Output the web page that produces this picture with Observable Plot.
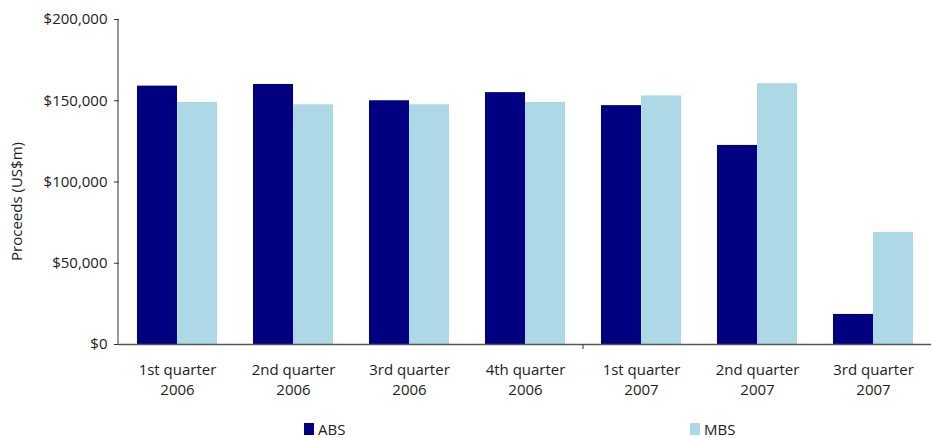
<!DOCTYPE html>
<html>
<head>
<meta charset="utf-8">
<script src="https://cdn.jsdelivr.net/npm/d3@7"></script>
<script src="https://cdn.jsdelivr.net/npm/@observablehq/plot@0.6"></script>
<style>
  html, body { margin: 0; padding: 0; background: #fff; }
  body { width: 932px; height: 438px; overflow: hidden; font-family: "Open Sans", sans-serif; }
  #legend { position: relative; width: 932px; height: 38px; font-size: 15px; color: #222; }
  .item { position: absolute; top: 21px; display: flex; align-items: center; height: 16px; }
  .sw { width: 10px; height: 12px; margin-right: 4px; }
</style>
</head>
<body>
<div id="chart"></div>
<div id="legend"></div>
<script>
const quarters = ["1st quarter\n2006", "2nd quarter\n2006", "3rd quarter\n2006", "4th quarter\n2006",
                  "1st quarter\n2007", "2nd quarter\n2007", "3rd quarter\n2007"];
const seriesNames = ["ABS", "MBS"];
const absValues = [159000, 160000, 150000, 155000, 147000, 122500, 18500];
const mbsValues = [149000, 147500, 147500, 149000, 153000, 160500, 69000];
const yTicks = [0, 50000, 100000, 150000, 200000];
const colors = ["#000080", "#ADD8E6"];
const yTitle = "Proceeds (US$m)";

const data = [];
quarters.forEach((q, i) => {
  data.push({quarter: q, series: "ABS", value: absValues[i]});
  data.push({quarter: q, series: "MBS", value: mbsValues[i]});
});

const fontFamily = '"Open Sans", sans-serif';
const plot = Plot.plot({
  width: 932,
  height: 400,
  marginLeft: 118,
  marginRight: 0,
  marginTop: 19,
  marginBottom: 56,
  style: {fontFamily, fontSize: "15px", color: "#222", background: "#fff"},
  fx: {domain: quarters, padding: 0, label: null},
  x: {domain: seriesNames, paddingInner: 0, paddingOuter: 0.418, axis: null},
  y: {domain: [0, 200000], label: null},
  color: {domain: seriesNames, range: colors},
  marks: [
    Plot.barY(data, {fx: "quarter", x: "series", y: "value", fill: "series", inset: 0}),
    Plot.ruleY([0], {stroke: "#555", strokeWidth: 1.5}),
    Plot.axisY({ticks: yTicks, tickFormat: d => "$" + d3.format(",")(d), tickSize: 5, tickPadding: 7, label: null, stroke: "#333", fontSize: 15}),
    Plot.axisFx({anchor: "bottom", tickSize: 0, tickPadding: 17, label: null, lineHeight: 1.3, fontSize: 15})
  ]
});
document.getElementById("chart").appendChild(plot);

// axis line and rotated title, positioned from the scales
const svg = d3.select(plot);
const y = plot.scale("y");
const fx = plot.scale("fx");
const y0 = y.apply(0), y1 = y.apply(200000);
svg.append("line").attr("x1", 118).attr("x2", 118).attr("y1", y1).attr("y2", y0)
  .attr("stroke", "#333").attr("stroke-width", 1);
// small tick at the year boundary
const xb = fx.apply(quarters[4]);
svg.append("line").attr("x1", xb).attr("x2", xb).attr("y1", y0).attr("y2", y0 + 5)
  .attr("stroke", "#333");
svg.append("text").text(yTitle)
  .attr("transform", `translate(22,${(y0 + y1) / 2 + 20}) rotate(-90)`)
  .attr("text-anchor", "middle").attr("font-size", 15).attr("fill", "#222")
  .attr("font-family", fontFamily);

// legend
const legend = document.getElementById("legend");
const legendX = [304, 690];
seriesNames.forEach((s, i) => {
  const it = document.createElement("div");
  it.className = "item";
  it.style.left = legendX[i] + "px";
  it.innerHTML = `<span class="sw" style="background:${colors[i]}"></span><span>${s}</span>`;
  legend.appendChild(it);
});
</script>
</body>
</html>
